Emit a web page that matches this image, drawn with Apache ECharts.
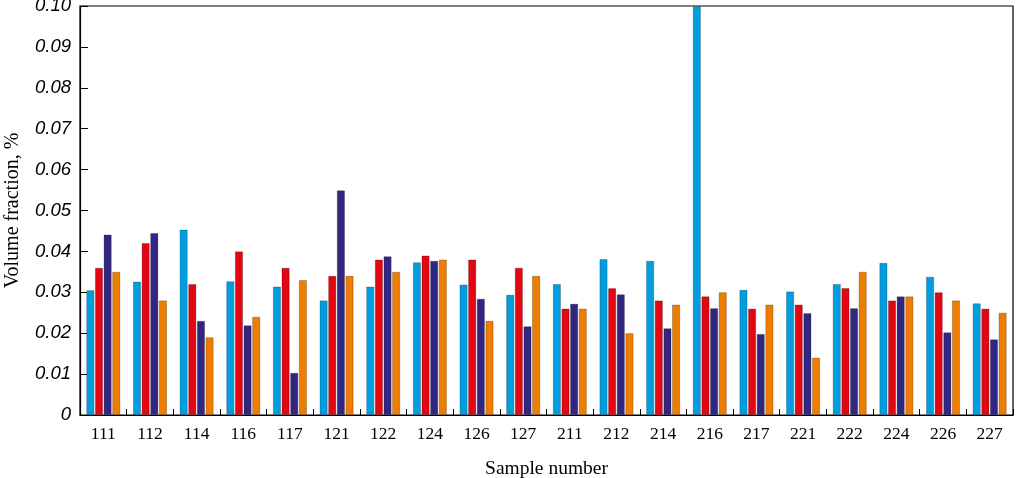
<!DOCTYPE html>
<html><head><meta charset="utf-8">
<script src="https://cdn.jsdelivr.net/npm/echarts@6/dist/echarts.min.js"></script>
<style>html,body{margin:0;padding:0;background:#fff}#c{width:1017px;height:478px}</style>
</head><body><div id="c"></div>
<script>
const categories = ['111','112','114','116','117','121','122','124','126','127','211','212','214','216','217','221','222','224','226','227'];
const seriesA = [0.0305,0.0326,0.0453,0.0327,0.0314,0.0280,0.0314,0.0373,0.0319,0.0294,0.0320,0.0381,0.0377,0.100,0.0306,0.0302,0.0320,0.0372,0.0338,0.0273];
const seriesB = [0.036,0.042,0.032,0.040,0.036,0.034,0.038,0.039,0.038,0.036,0.026,0.031,0.028,0.029,0.026,0.027,0.031,0.028,0.030,0.026];
const seriesC = [0.0441,0.0445,0.0230,0.0219,0.0103,0.0549,0.0388,0.0377,0.0284,0.0217,0.0272,0.0295,0.0212,0.0261,0.0198,0.0249,0.0261,0.0290,0.0202,0.0185];
const seriesD = [0.035,0.028,0.019,0.024,0.033,0.034,0.035,0.038,0.023,0.034,0.026,0.020,0.027,0.030,0.027,0.014,0.035,0.029,0.028,0.025];
const yTicks = [0,0.01,0.02,0.03,0.04,0.05,0.06,0.07,0.08,0.09,0.10];
const colors = ['#009ee0','#e30613','#312783','#ef7d00'];

const chart = echarts.init(document.getElementById('c'));
const mk = (name, data, i) => ({
  name, type:'bar', data, barWidth:8, barGap:'8%',
  itemStyle:{color:colors[i], borderColor:'rgba(0,0,0,0.3)', borderWidth:0.8},
  silent:true, animation:false
});
chart.setOption({
  animation:false,
  grid:{left:80, right:4, top:6, bottom:63, show:true, borderColor:'#000', borderWidth:1.2, containLabel:false, outerBoundsMode:'none'},
  xAxis:{
    type:'category', data:categories,
    axisLine:{lineStyle:{color:'#000', width:1.2}},
    axisTick:{show:true, inside:true, length:6, alignWithLabel:false, lineStyle:{color:'#000'}},
    axisLabel:{fontFamily:'Liberation Serif', fontSize:17.5, color:'#000', margin:10},
    name:'Sample number', nameLocation:'middle', nameGap:44,
    nameTextStyle:{fontFamily:'Liberation Serif', fontSize:19.5, color:'#000'}
  },
  yAxis:{
    type:'value', min:0, max:0.10, interval:0.01,
    axisLine:{show:true, lineStyle:{color:'#000', width:1.2}},
    axisTick:{show:true, inside:true, length:8, lineStyle:{color:'#000'}},
    splitLine:{show:false},
    axisLabel:{fontFamily:'Liberation Sans', fontStyle:'italic', fontSize:18.5, color:'#000', margin:9,
      formatter:v=>{ const t = yTicks.find(x=>Math.abs(x-v)<1e-9); const val = t===undefined? v : t; return val===0?'0':val.toFixed(2); }},
    name:'Volume fraction, %', nameLocation:'middle', nameGap:57,
    nameTextStyle:{fontFamily:'Liberation Serif', fontSize:20, color:'#000'}
  },
  series:[mk('A',seriesA,0), mk('B',seriesB,1), mk('C',seriesC,2), mk('D',seriesD,3)]
});
</script></body></html>
